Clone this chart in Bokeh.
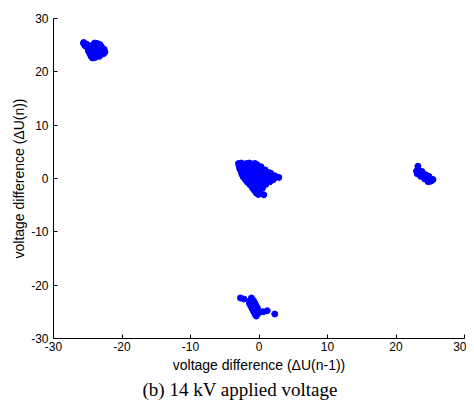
from bokeh.plotting import figure
from bokeh.models import Range1d, FixedTicker, Title
from bokeh.embed import file_html
from bokeh.resources import INLINE

# Cluster near (-24, 24)
a_x = [-25.6, -25.2, -24.0, -23.6, -23.2,
       -25.4, -25.0, -24.6, -24.2, -23.8, -23.4, -23.0,
       -25.0, -24.6, -24.2, -23.8, -23.4, -23.0, -22.6,
       -24.9, -24.5, -24.1, -23.7, -23.3, -22.9, -22.5,
       -24.7, -24.3, -23.9, -23.5, -23.1, -22.7,
       -24.5, -24.1, -23.7, -23.3, -24.3, -23.9, -25.6]
a_y = [25.3, 25.2, 25.4, 25.3, 25.1,
       24.9, 24.8, 24.9, 25.0, 24.8, 24.9, 24.7,
       24.4, 24.3, 24.5, 24.4, 24.3, 24.4, 24.2,
       23.9, 23.8, 24.0, 23.9, 23.8, 23.9, 23.7,
       23.4, 23.3, 23.5, 23.4, 23.3, 23.4,
       22.9, 22.8, 23.0, 22.9, 22.6, 22.7, 25.5]

# Central cluster near (0, 0)
b_x = [-3.0, -2.6, -2.2, -1.8, -1.4, -1.0, -0.6, -0.3,
       -2.9, -2.5, -2.1, -1.7, -1.3, -0.9, -0.5, -0.1, 0.3,
       -2.8, -2.4, -2.0, -1.6, -1.2, -0.8, -0.4, 0.0, 0.4, 0.9,
       -2.6, -2.2, -1.8, -1.4, -1.0, -0.6, -0.2, 0.2, 0.6, 1.0, 1.4, 1.7,
       -2.5, -2.1, -1.7, -1.3, -0.9, -0.5, -0.1, 0.3, 0.7, 1.1, 1.5, 1.9, 2.3,
       -2.3, -1.9, -1.5, -1.1, -0.7, -0.3, 0.1, 0.5, 0.9, 1.3, 1.7, 2.1, 2.5, 2.9,
       -2.0, -1.6, -1.2, -0.8, -0.4, 0.0, 0.4, 0.8, 1.2, 1.6, 2.1,
       -1.7, -1.3, -0.9, -0.5, -0.1, 0.3, 0.7, 1.1, 1.6,
       -1.3, -0.9, -0.5, -0.1, 0.3, 0.7, 1.0,
       -1.0, -0.6, -0.2, 0.2, 0.5,
       -0.7, -0.3, 0.1,
       -0.4, 0.0, -0.1, 0.7]
b_y = [2.8, 2.9, 2.7, 2.8, 2.9, 2.7, 2.8, 2.6,
       2.3, 2.4, 2.2, 2.3, 2.4, 2.2, 2.3, 2.2, 2.2,
       1.8, 1.9, 1.7, 1.8, 1.9, 1.7, 1.8, 1.7, 1.7, 1.6,
       1.3, 1.4, 1.2, 1.3, 1.4, 1.2, 1.3, 1.2, 1.3, 1.2, 1.1, 1.0,
       0.8, 0.9, 0.7, 0.8, 0.9, 0.7, 0.8, 0.7, 0.8, 0.7, 0.7, 0.6, 0.5,
       0.3, 0.4, 0.2, 0.3, 0.4, 0.2, 0.3, 0.2, 0.3, 0.2, 0.3, 0.2, 0.3, 0.2,
       -0.2, -0.3, -0.1, -0.2, -0.3, -0.1, -0.2, -0.3, -0.2, -0.3, -0.2,
       -0.7, -0.8, -0.6, -0.7, -0.8, -0.6, -0.7, -0.8, -0.6,
       -1.2, -1.3, -1.1, -1.2, -1.3, -1.2, -1.1,
       -1.7, -1.8, -1.6, -1.7, -1.8,
       -2.2, -2.3, -2.1,
       -2.7, -2.6, -3.0, -3.05]

# Cluster near (0, -24)
c_x = [-2.7, -2.2, -1.1, -1.3, -0.8, -1.4, -1.0, -0.6, -1.2, -0.8, -0.4,
       -1.0, -0.6, -0.2, -0.8, -0.4, 0.0, -0.6, -0.2, -0.4, 0.6, 1.2, 2.3]
c_y = [-22.4, -22.6, -22.4, -22.9, -22.9, -23.4, -23.4, -23.4, -23.9, -23.9, -23.9,
       -24.4, -24.4, -24.4, -24.9, -24.9, -24.9, -25.4, -25.4, -25.8, -25.0, -24.8, -25.4]

# Cluster near (24, 0)
d_x = [23.2, 23.0, 23.4, 23.8, 23.1, 23.5, 23.9, 24.3, 23.6, 24.0, 24.4, 24.8,
       24.2, 24.6, 25.0, 25.4, 24.7, 25.1, 24.4, 23.7]
d_y = [2.3, 1.4, 1.5, 1.3, 0.9, 0.9, 0.8, 0.7, 0.4, 0.3, 0.3, 0.4,
       -0.1, -0.1, 0.0, -0.2, -0.6, -0.5, 0.6, 1.1]

ticks = [-30, -20, -10, 0, 10, 20, 30]
tick_labels = {t: str(t) for t in ticks}

p = figure(width=466, height=401, output_backend="svg", toolbar_location=None,
           x_range=Range1d(-30, 30), y_range=Range1d(-30, 30),
           min_border_left=53, min_border_right=2, min_border_top=18, min_border_bottom=63)
p.outline_line_color = None
p.grid.visible = False
p.background_fill_color = "white"
p.border_fill_color = "white"

for ax in (p.xaxis[0], p.yaxis[0]):
    ax.ticker = FixedTicker(ticks=ticks)
    ax.major_label_overrides = tick_labels
    ax.major_tick_in = 4
    ax.major_tick_out = 0
    ax.minor_tick_line_color = None
    ax.axis_line_color = "black"
    ax.major_tick_line_color = "black"
    ax.major_label_text_color = "black"
    ax.major_label_text_font = "Liberation Sans"
    ax.major_label_text_font_size = "12px"
    ax.axis_label_text_font = "Liberation Sans"
    ax.axis_label_text_font_size = "14px"
    ax.axis_label_text_font_style = "normal"
    ax.axis_label_text_color = "black"

p.xaxis.axis_label = "voltage difference (ΔU(n-1))"
p.yaxis.axis_label = "voltage difference (ΔU(n))"
p.xaxis.major_label_standoff = 3
p.xaxis.axis_label_standoff = 3
p.yaxis.major_label_standoff = 5
p.yaxis.axis_label_standoff = 1

for xs, ys in ((a_x, a_y), (b_x, b_y), (c_x, c_y), (d_x, d_y)):
    p.scatter(xs, ys, size=6, color="#0000FF", line_color="#0000FF")

cap = Title(text="(b) 14 kV applied voltage", align="left",
            text_font="Liberation Serif", text_font_size="19px",
            text_font_style="normal", text_color="black", offset=89, standoff=2)
p.add_layout(cap, "below")

open("out.html", "w").write(file_html(p, INLINE))
